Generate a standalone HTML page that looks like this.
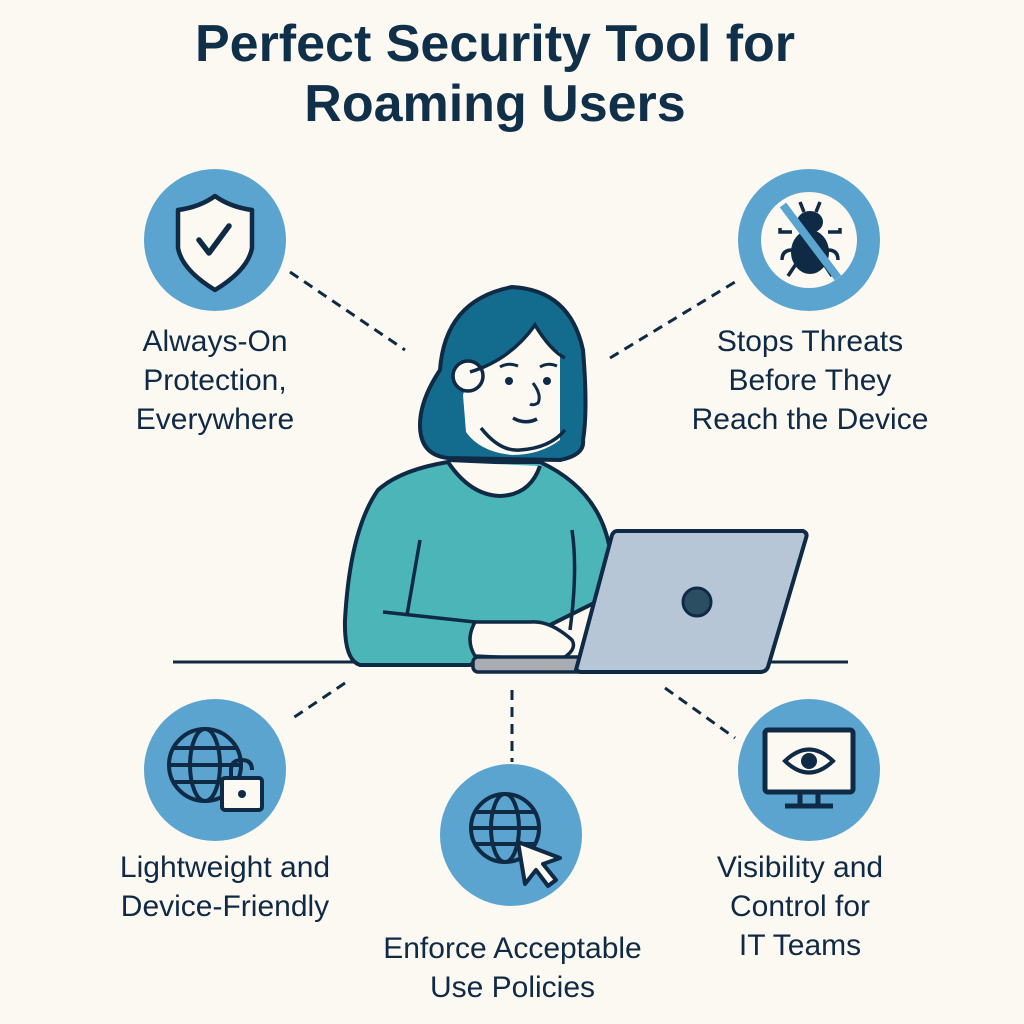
<!DOCTYPE html>
<html><head><meta charset="utf-8"><style>
html,body{margin:0;padding:0;background:#fcf8f2;}
body{width:1024px;height:1024px;position:relative;overflow:hidden;font-family:"Liberation Sans","DejaVu Sans",sans-serif;color:#0f2a44;}
.t{position:absolute;text-align:center;font-size:30px;line-height:39px;}
h1{position:absolute;left:0;width:990px;top:14px;margin:0;text-align:center;font-size:52px;line-height:60px;font-weight:bold;color:#10304a;}
svg{position:absolute;left:0;top:0;}
</style></head><body>
<svg width="1024" height="1024" viewBox="0 0 1024 1024">
<g stroke="#0f2a44" stroke-width="3" stroke-dasharray="10,7" fill="none">
<line x1="290" y1="272" x2="405" y2="350"/>
<line x1="610" y1="358" x2="735" y2="282"/>
<line x1="345" y1="683" x2="290" y2="720"/>
<line x1="512" y1="690" x2="512" y2="762"/>
<line x1="665" y1="688" x2="735" y2="738"/>
</g>
<g fill="#5aa4cf">
<circle cx="215" cy="240" r="71"/><circle cx="809" cy="240" r="71"/>
<circle cx="215" cy="770" r="71"/><circle cx="511" cy="835" r="71"/><circle cx="809" cy="770" r="71"/>
</g>
<!-- shield -->
<path d="M178 210 Q200 207 215 196 Q230 207 252 210 L252 248 Q248 270 215 290 Q182 270 178 248Z" fill="#fcf8f2" stroke="#0f2a44" stroke-width="4.5" stroke-linejoin="round"/>
<path d="M199 240 L209 253 L229 226" fill="none" stroke="#0f2a44" stroke-width="5.5" stroke-linecap="round" stroke-linejoin="round"/>
<!-- bug -->
<circle cx="809" cy="240" r="48" fill="#fcf8f2"/>
<ellipse cx="810" cy="252" rx="19" ry="22" fill="#0f2a44"/>
<ellipse cx="810" cy="222" rx="13" ry="11" fill="#0f2a44"/>
<g stroke="#0f2a44" stroke-width="3.5" fill="none"><path d="M804 212 L800 202 M816 212 L820 202 M792 232 H780 V228 M828 232 H840 V228 M792 250 Q782 250 782 260 M828 250 Q838 250 838 260 M796 264 L788 276 M824 264 L832 276"/></g>
<line x1="783" y1="205" x2="838" y2="278" stroke="#5aa4cf" stroke-width="8"/>
<!-- globe lock -->
<g stroke="#0f2a44" stroke-width="4" fill="none">
<circle cx="205" cy="765" r="36"/><ellipse cx="205" cy="765" rx="15" ry="36"/><line x1="169" y1="765" x2="241" y2="765"/><path d="M174 748 H236 M174 782 H236"/>
</g>
<rect x="222" y="778" width="40" height="32" rx="3" fill="#fcf8f2" stroke="#0f2a44" stroke-width="4"/>
<path d="M231 778 V770 Q231 760 242 760 Q252 760 252 770" fill="none" stroke="#0f2a44" stroke-width="4"/>
<circle cx="242" cy="794" r="4" fill="#0f2a44"/>
<!-- globe cursor -->
<g stroke="#0f2a44" stroke-width="4" fill="none">
<circle cx="505" cy="828" r="34"/><ellipse cx="505" cy="828" rx="14" ry="34"/><line x1="471" y1="828" x2="539" y2="828"/><path d="M476 812 H534 M476 844 H534"/>
</g>
<path d="M518 842 L560 858 L543 864 L556 880 L548 886 L536 870 L525 884Z" fill="#fcf8f2" stroke="#0f2a44" stroke-width="4" stroke-linejoin="round"/>
<!-- monitor -->
<rect x="765" y="730" width="88" height="62" rx="3" fill="#fcf8f2" stroke="#0f2a44" stroke-width="5"/>
<path d="M800 792 V804 M818 792 V804 M785 806 H833" stroke="#0f2a44" stroke-width="5"/>
<path d="M785 761 Q809 738 833 761 Q809 784 785 761Z" fill="#fcf8f2" stroke="#0f2a44" stroke-width="4"/>
<circle cx="809" cy="761" r="8" fill="#0f2a44"/>
<!-- table -->
<line x1="173" y1="662" x2="848" y2="662" stroke="#0f2a44" stroke-width="3"/>
<!-- hair back -->
<path d="M512 287 Q570 290 583 350 Q588 410 583 440 Q585 455 560 460 L448 458 Q420 455 420 425 Q420 400 440 370 Q445 300 512 287Z" fill="#136b8d" stroke="#0f2a44" stroke-width="4"/>
<!-- body -->
<path d="M448 462 Q400 470 378 490 Q350 530 345 620 Q344 660 360 665 L470 665 L600 600 L610 550 Q600 490 540 462Z" fill="#4bb5b8" stroke="#0f2a44" stroke-width="4"/>
<path d="M448 462 Q470 495 500 496 Q530 495 540 466" fill="#fcf8f2" stroke="#0f2a44" stroke-width="4"/>
<path d="M420 540 L407 615 M572 530 Q578 570 570 630" fill="none" stroke="#0f2a44" stroke-width="3.5"/>
<path d="M383 612 L475 622" stroke="#0f2a44" stroke-width="3.5"/>
<!-- face -->
<path d="M470 372 Q510 360 535 325 Q550 350 560 352 L560 440 Q540 455 512 455 Q480 452 466 432 L463 395 Z" fill="#fcf8f2"/>
<path d="M481 428 Q500 452 520 450 Q550 448 565 430" fill="none" stroke="#0f2a44" stroke-width="3.5"/>
<circle cx="468" cy="376" r="15" fill="#fcf8f2" stroke="#0f2a44" stroke-width="3.5"/>
<path d="M470 372 Q510 360 535 325 Q550 350 565 358" fill="none" stroke="#0f2a44" stroke-width="3.5"/>
<circle cx="509" cy="381" r="4" fill="#0f2a44"/><circle cx="547" cy="381" r="4" fill="#0f2a44"/>
<path d="M500 367 Q508 362 518 366 M540 367 Q548 362 557 366" fill="none" stroke="#0f2a44" stroke-width="3"/>
<path d="M533 383 Q542 395 538 403 Q533 406 530 404" fill="none" stroke="#0f2a44" stroke-width="3"/>
<path d="M513 418 Q525 425 537 419" fill="none" stroke="#0f2a44" stroke-width="3.5"/>
<!-- hand -->
<path d="M475 622 Q465 640 475 656 L560 660 Q578 650 572 640 Q550 620 530 622Z" fill="#fcf8f2" stroke="#0f2a44" stroke-width="3.5"/>
<!-- laptop -->
<rect x="473" y="657" width="120" height="15" rx="5" fill="#a9adb3" stroke="#0f2a44" stroke-width="3.5"/>
<path d="M617 531 L803 531 Q808 533 806 538 L768 667 Q766 672 760 672 L580 672 L576 670 L612 535 Q614 531 617 531Z" fill="#b6c6d6" stroke="#0f2a44" stroke-width="4"/>
<circle cx="697" cy="602" r="14" fill="#2c4e63" stroke="#0f2a44" stroke-width="3"/>
</svg>
<h1>Perfect Security Tool for<br>Roaming Users</h1>
<div class="t" style="left:90px;width:250px;top:322px;">Always-On<br>Protection,<br>Everywhere</div>
<div class="t" style="left:660px;width:300px;top:322px;">Stops Threats<br>Before They<br>Reach the Device</div>
<div class="t" style="left:80px;width:290px;top:848px;">Lightweight and<br>Device-Friendly</div>
<div class="t" style="left:350px;width:325px;top:929px;">Enforce Acceptable<br>Use Policies</div>
<div class="t" style="left:670px;width:260px;top:848px;">Visibility and<br>Control for<br>IT Teams</div>
</body></html>
